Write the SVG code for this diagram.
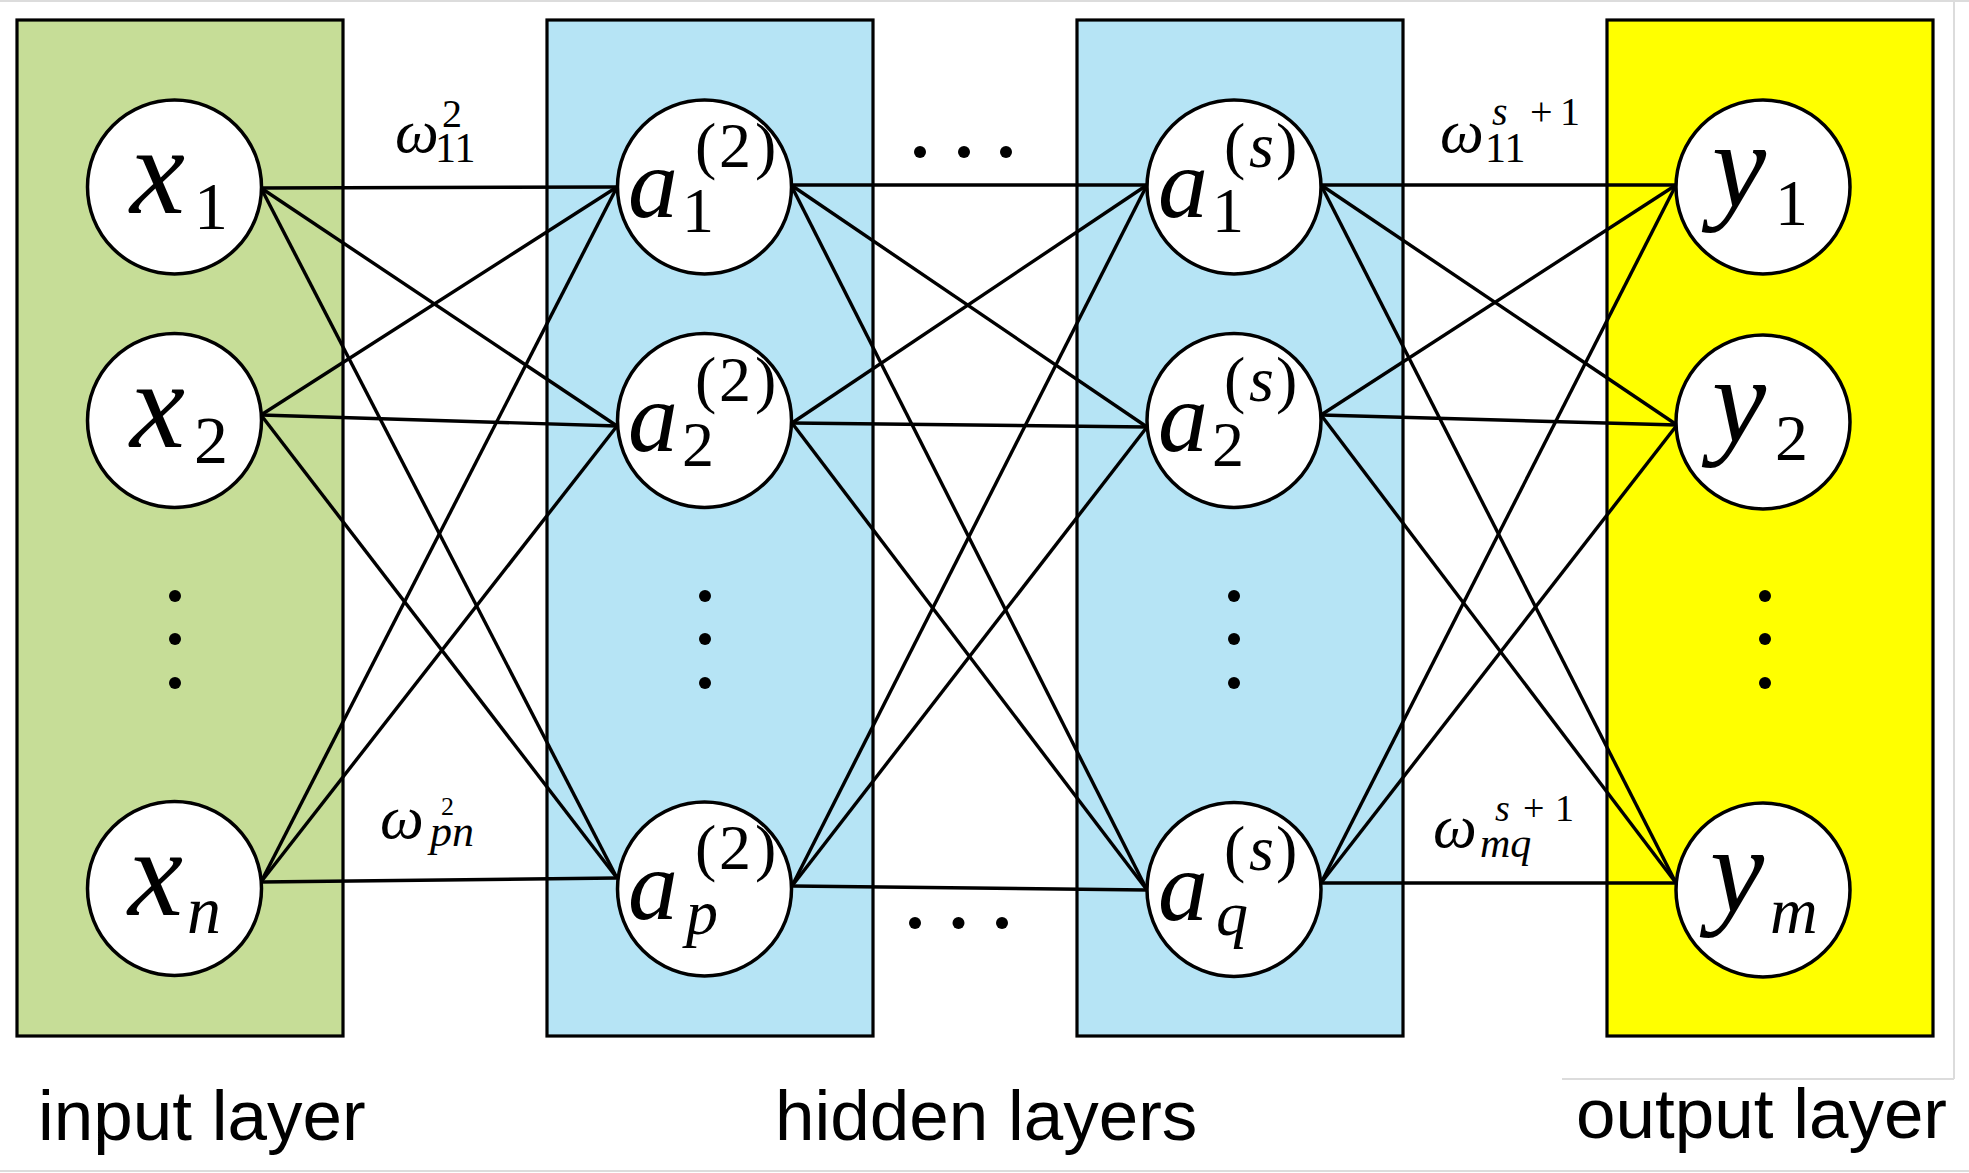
<svg xmlns="http://www.w3.org/2000/svg" width="1969" height="1173" viewBox="0 0 1969 1173">
<style>
.layer{stroke:#000;stroke-width:3.2}
.node circle{fill:#fff;stroke:#000;stroke-width:3.5}
#connectors line{stroke:#000;stroke-width:3.4}
.m{font-family:"Liberation Serif","Times New Roman",serif;fill:#000}
.i{font-style:italic}
.lbl{font-family:"Liberation Sans",Arial,sans-serif;font-size:71px;fill:#000}
.dot{fill:#000}
</style>
<rect width="1969" height="1173" fill="#fff"/>
<g id="frame" stroke="#dcdcdc" stroke-width="2" fill="none">
<line x1="0" y1="1" x2="1969" y2="1"/>
<line x1="1954" y1="0" x2="1954" y2="1079"/>
<line x1="1562" y1="1079" x2="1954" y2="1079"/>
<line x1="0" y1="1171" x2="1969" y2="1171"/>
</g>
<g id="layers">
<rect id="input-layer" class="layer" x="17" y="20" width="326" height="1016" fill="#c6dd97"/>
<rect id="hidden-layer-2" class="layer" x="547" y="20" width="326" height="1016" fill="#b6e4f5"/>
<rect id="hidden-layer-s" class="layer" x="1077" y="20" width="326" height="1016" fill="#b6e4f5"/>
<rect id="output-layer" class="layer" x="1607" y="20" width="326" height="1016" fill="#ffff00"/>
</g>
<g id="connectors">
<line x1="261" y1="188" x2="617" y2="187"/>
<line x1="261" y1="188" x2="617" y2="426"/>
<line x1="261" y1="188" x2="617" y2="878"/>
<line x1="261" y1="415" x2="617" y2="187"/>
<line x1="261" y1="415" x2="617" y2="426"/>
<line x1="261" y1="415" x2="617" y2="878"/>
<line x1="261" y1="882" x2="617" y2="187"/>
<line x1="261" y1="882" x2="617" y2="426"/>
<line x1="261" y1="882" x2="617" y2="878"/>
<line x1="791" y1="185" x2="1147" y2="185"/>
<line x1="791" y1="185" x2="1147" y2="427"/>
<line x1="791" y1="185" x2="1147" y2="890"/>
<line x1="792" y1="423" x2="1147" y2="185"/>
<line x1="792" y1="423" x2="1147" y2="427"/>
<line x1="792" y1="423" x2="1147" y2="890"/>
<line x1="792" y1="886" x2="1147" y2="185"/>
<line x1="792" y1="886" x2="1147" y2="427"/>
<line x1="792" y1="886" x2="1147" y2="890"/>
<line x1="1321" y1="185" x2="1676" y2="185"/>
<line x1="1321" y1="185" x2="1677" y2="425"/>
<line x1="1321" y1="185" x2="1676" y2="883"/>
<line x1="1321" y1="415" x2="1676" y2="185"/>
<line x1="1321" y1="415" x2="1677" y2="425"/>
<line x1="1321" y1="415" x2="1676" y2="883"/>
<line x1="1321" y1="883" x2="1676" y2="185"/>
<line x1="1321" y1="883" x2="1677" y2="425"/>
<line x1="1321" y1="883" x2="1676" y2="883"/>
</g>
<g id="node-x1" class="node"><circle cx="174.5" cy="187" r="87"/>
<text class="m" y="213"><tspan class="i" x="130" font-size="124">x</tspan><tspan x="194" y="229" font-size="68">1</tspan></text></g>
<g id="node-x2" class="node"><circle cx="174.5" cy="420.5" r="87"/>
<text class="m" y="446.5"><tspan class="i" x="130" font-size="124">x</tspan><tspan x="194" y="462.5" font-size="68">2</tspan></text></g>
<g id="node-xn" class="node"><circle cx="174.5" cy="888.5" r="87"/>
<text class="m" y="914.5"><tspan class="i" x="128" font-size="124">x</tspan><tspan class="i" x="187" y="932.5" font-size="68">n</tspan></text></g>

<g id="node-a1-2" class="node"><circle cx="704.5" cy="187" r="87"/>
<text class="m" font-size="64"><tspan class="i" x="628" y="217" font-size="100">a</tspan><tspan x="682" y="232">1</tspan><tspan x="695" y="167">(</tspan><tspan x="719" y="167">2</tspan><tspan x="755" y="167">)</tspan></text></g>
<g id="node-a2-2" class="node"><circle cx="704.5" cy="420.5" r="87"/>
<text class="m" font-size="64"><tspan class="i" x="628" y="450.5" font-size="100">a</tspan><tspan x="682" y="465.5">2</tspan><tspan x="695" y="400.5">(</tspan><tspan x="719" y="400.5">2</tspan><tspan x="755" y="400.5">)</tspan></text></g>
<g id="node-ap-2" class="node"><circle cx="704.5" cy="889" r="87"/>
<text class="m" font-size="64"><tspan class="i" x="628" y="919" font-size="100">a</tspan><tspan class="i" x="686" y="934">p</tspan><tspan x="695" y="869">(</tspan><tspan x="719" y="869">2</tspan><tspan x="755" y="869">)</tspan></text></g>

<g id="node-a1-s" class="node"><circle cx="1234" cy="187" r="87"/>
<text class="m" font-size="64"><tspan class="i" x="1158" y="217" font-size="100">a</tspan><tspan x="1212" y="232">1</tspan><tspan x="1224" y="167">(</tspan><tspan class="i" x="1249" y="167">s</tspan><tspan x="1276" y="167">)</tspan></text></g>
<g id="node-a2-s" class="node"><circle cx="1234" cy="420.5" r="87"/>
<text class="m" font-size="64"><tspan class="i" x="1158" y="450.5" font-size="100">a</tspan><tspan x="1212" y="465.5">2</tspan><tspan x="1224" y="400.5">(</tspan><tspan class="i" x="1249" y="400.5">s</tspan><tspan x="1276" y="400.5">)</tspan></text></g>
<g id="node-aq-s" class="node"><circle cx="1234" cy="889.5" r="87"/>
<text class="m" font-size="64"><tspan class="i" x="1158" y="919.5" font-size="100">a</tspan><tspan class="i" x="1216" y="934.5">q</tspan><tspan x="1224" y="869.5">(</tspan><tspan class="i" x="1249" y="869.5">s</tspan><tspan x="1276" y="869.5">)</tspan></text></g>

<g id="node-y1" class="node"><circle cx="1763" cy="187" r="87"/>
<text class="m" y="207"><tspan class="i" x="1712" font-size="122">y</tspan><tspan x="1775" y="225" font-size="66">1</tspan></text></g>
<g id="node-y2" class="node"><circle cx="1763" cy="422" r="87"/>
<text class="m" y="442"><tspan class="i" x="1712" font-size="122">y</tspan><tspan x="1775" y="460" font-size="66">2</tspan></text></g>
<g id="node-ym" class="node"><circle cx="1763" cy="890" r="87"/>
<text class="m" y="912"><tspan class="i" x="1710" font-size="122">y</tspan><tspan class="i" x="1770" y="933" font-size="66">m</tspan></text></g>

<g id="vdots">
<circle class="dot" cx="175" cy="596" r="6"/><circle class="dot" cx="175" cy="639" r="6"/><circle class="dot" cx="175" cy="683" r="6"/>
<circle class="dot" cx="705" cy="596" r="6"/><circle class="dot" cx="705" cy="639" r="6"/><circle class="dot" cx="705" cy="683" r="6"/>
<circle class="dot" cx="1234" cy="596" r="6"/><circle class="dot" cx="1234" cy="639" r="6"/><circle class="dot" cx="1234" cy="683" r="6"/>
<circle class="dot" cx="1765" cy="596" r="6"/><circle class="dot" cx="1765" cy="639" r="6"/><circle class="dot" cx="1765" cy="683" r="6"/>
</g>
<g id="hdots">
<circle class="dot" cx="920" cy="152" r="6"/><circle class="dot" cx="964" cy="152" r="6"/><circle class="dot" cx="1006" cy="152" r="6"/>
<circle class="dot" cx="915" cy="923" r="6"/><circle class="dot" cx="958.5" cy="923" r="6"/><circle class="dot" cx="1002" cy="923" r="6"/>
</g>
<g id="weight-labels">
<text class="m"><tspan class="i" x="395" y="152" font-size="62">ω</tspan><tspan x="442" y="127" font-size="40">2</tspan><tspan x="435" y="162" font-size="42">11</tspan></text>
<text class="m"><tspan class="i" x="380" y="838" font-size="62">ω</tspan><tspan x="441" y="815" font-size="26">2</tspan><tspan class="i" x="430" y="846" font-size="44">pn</tspan></text>
<text class="m"><tspan class="i" x="1440" y="152" font-size="62">ω</tspan><tspan class="i" x="1492" y="125" font-size="40">s</tspan><tspan x="1530" y="125" font-size="40">+</tspan><tspan x="1560" y="125" font-size="40">1</tspan><tspan x="1485" y="162" font-size="42">11</tspan></text>
<text class="m"><tspan class="i" x="1433" y="847" font-size="62">ω</tspan><tspan class="i" x="1495" y="821" font-size="38">s</tspan><tspan x="1523" y="821" font-size="38">+</tspan><tspan x="1555" y="821" font-size="38">1</tspan><tspan class="i" x="1480" y="857" font-size="42">mq</tspan></text>
</g>
<g id="captions">
<text class="lbl" x="38" y="1140">input layer</text>
<text class="lbl" x="775" y="1140">hidden layers</text>
<text class="lbl" x="1576" y="1138">output layer</text>
</g>
</svg>
